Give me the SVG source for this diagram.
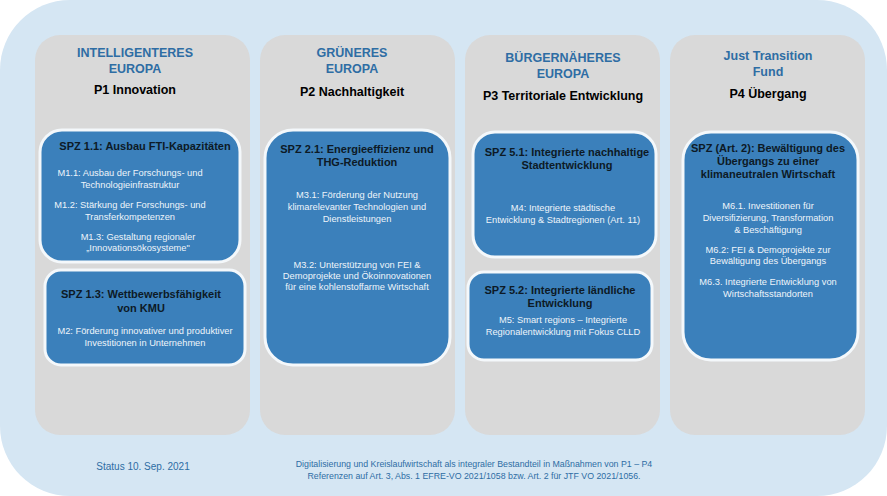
<svg xmlns="http://www.w3.org/2000/svg" width="887" height="496" viewBox="0 0 887 496">
<style>
.col{fill:#d9d9d9}
.box{fill:#3b80bb;stroke:#f4f8fb;stroke-width:3}
.h{font-family:"Liberation Sans",Arial,sans-serif;font-weight:bold;font-size:12.5px;fill:#2e6da4;text-anchor:middle}
.p{font-family:"Liberation Sans",Arial,sans-serif;font-weight:bold;font-size:12.5px;fill:#000;text-anchor:middle}
.t{font-family:"Liberation Sans",Arial,sans-serif;font-weight:bold;font-size:11px;fill:#0d1a26;text-anchor:middle}
.m{font-family:"Liberation Sans",Arial,sans-serif;font-size:9.3px;fill:#eef4fa;text-anchor:middle}
.f{font-family:"Liberation Sans",Arial,sans-serif;font-size:8.5px;fill:#2e6da4;text-anchor:middle}
</style>
<rect x="0" y="0" width="887" height="496" fill="#ffffff"/>
<rect x="0" y="0" width="887" height="496" rx="70" fill="#d5e6f3"/>
<g id="p1">
<rect class="col" x="35" y="35" width="215" height="400" rx="25"/>
<text class="h" x="135" y="57">INTELLIGENTERES</text>
<text class="h" x="135" y="73">EUROPA</text>
<text class="p" x="135" y="94">P1 Innovation</text>
</g>
<g id="p2">
<rect class="col" x="260" y="35" width="195" height="400" rx="25"/>
<text class="h" x="352" y="57">GRÜNERES</text>
<text class="h" x="352" y="73">EUROPA</text>
<text class="p" x="352" y="96">P2 Nachhaltigkeit</text>
</g>
<g id="p3">
<rect class="col" x="465" y="35" width="195" height="400" rx="25"/>
<text class="h" x="563" y="62">BÜRGERNÄHERES</text>
<text class="h" x="563" y="78">EUROPA</text>
<text class="p" x="563" y="100">P3 Territoriale Entwicklung</text>
</g>
<g id="p4">
<rect class="col" x="670" y="35" width="195" height="400" rx="25"/>
<text class="h" x="768" y="60">Just Transition</text>
<text class="h" x="768" y="76">Fund</text>
<text class="p" x="768" y="98">P4 Übergang</text>
</g>
<g id="spz11">
<rect class="box" x="40" y="130" width="200" height="132" rx="22"/>
<text class="t" x="145" y="150">SPZ 1.1: Ausbau FTI-Kapazitäten</text>
<text class="m" x="130" y="176">M1.1: Ausbau der Forschungs- und</text>
<text class="m" x="130" y="188">Technologieinfrastruktur</text>
<text class="m" x="130" y="208">M1.2: Stärkung der Forschungs- und</text>
<text class="m" x="130" y="220">Transferkompetenzen</text>
<text class="m" x="138" y="240">M1.3: Gestaltung regionaler</text>
<text class="m" x="138" y="251">„Innovationsökosysteme"</text>
</g>
<g id="spz13">
<rect class="box" x="45" y="270" width="200" height="95" rx="16"/>
<text class="t" x="141" y="298">SPZ 1.3: Wettbewerbsfähigkeit</text>
<text class="t" x="141" y="312">von KMU</text>
<text class="m" x="145" y="334">M2: Förderung innovativer und produktiver</text>
<text class="m" x="145" y="346">Investitionen in Unternehmen</text>
</g>
<g id="spz21">
<rect class="box" x="265" y="130" width="185" height="235" rx="28"/>
<text class="t" x="357" y="153">SPZ 2.1: Energieeffizienz und</text>
<text class="t" x="357" y="166">THG-Reduktion</text>
<text class="m" x="357" y="198">M3.1: Förderung der Nutzung</text>
<text class="m" x="357" y="210">klimarelevanter Technologien und</text>
<text class="m" x="357" y="222">Dienstleistungen</text>
<text class="m" x="357" y="268">M3.2: Unterstützung von FEI &amp;</text>
<text class="m" x="357" y="279">Demoprojekte und Ökoinnovationen</text>
<text class="m" x="357" y="290">für eine kohlenstoffarme Wirtschaft</text>
</g>
<g id="spz51">
<rect class="box" x="473" y="132" width="183" height="125" rx="22"/>
<text class="t" x="567" y="156">SPZ 5.1: Integrierte nachhaltige</text>
<text class="t" x="567" y="169">Stadtentwicklung</text>
<text class="m" x="563" y="211">M4: Integrierte städtische</text>
<text class="m" x="563" y="223">Entwicklung &amp; Stadtregionen (Art. 11)</text>
</g>
<g id="spz52">
<rect class="box" x="468" y="272" width="184" height="88" rx="16"/>
<text class="t" x="560" y="294">SPZ 5.2: Integrierte ländliche</text>
<text class="t" x="560" y="307">Entwicklung</text>
<text class="m" x="563" y="323">M5: Smart regions – Integrierte</text>
<text class="m" x="563" y="335">Regionalentwicklung mit Fokus  CLLD</text>
</g>
<g id="spzart2">
<rect class="box" x="683" y="132" width="175" height="228" rx="28"/>
<text class="t" x="768" y="152">SPZ (Art. 2): Bewältigung des</text>
<text class="t" x="768" y="165">Übergangs zu einer</text>
<text class="t" x="768" y="178">klimaneutralen Wirtschaft</text>
<text class="m" x="768" y="209">M6.1. Investitionen für</text>
<text class="m" x="768" y="221">Diversifizierung, Transformation</text>
<text class="m" x="768" y="233">&amp; Beschäftigung</text>
<text class="m" x="768" y="253">M6.2:  FEI &amp; Demoprojekte zur</text>
<text class="m" x="768" y="264">Bewältigung des Übergangs</text>
<text class="m" x="768" y="285">M6.3. Integrierte Entwicklung von</text>
<text class="m" x="768" y="297">Wirtschaftsstandorten</text>
</g>
<g id="footer">
<text class="f" x="143" y="470" style="font-size:10px">Status 10. Sep. 2021</text>
<text class="f" x="474" y="467" style="font-size:8.8px">Digitalisierung  und Kreislaufwirtschaft  als integraler  Bestandteil  in Maßnahmen  von  P1 – P4</text>
<text class="f" x="474" y="479" style="font-size:8.8px">Referenzen  auf Art. 3, Abs. 1 EFRE-VO  2021/1058  bzw.  Art.  2 für JTF VO 2021/1056.</text>
</g>
<g id="connectors"></g>
</svg>
